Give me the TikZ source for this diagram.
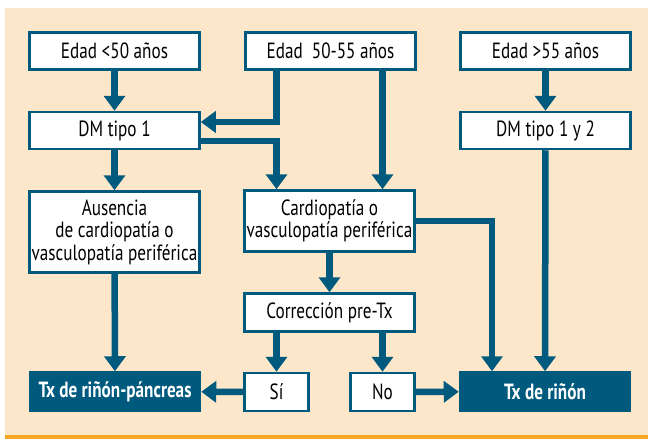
\documentclass[tikz,border=0pt]{standalone}
\usepackage{fontspec}
\setmainfont{PT Sans}[FakeStretch=0.78]
\usetikzlibrary{arrows.meta,positioning}
\definecolor{azul}{RGB}{0,90,126}
\definecolor{crema}{RGB}{253,231,202}
\definecolor{naranja}{RGB}{247,168,35}
\begin{document}
\begin{tikzpicture}[x=1pt,y=-1pt,
  caja/.style={draw=azul,line width=2.5pt,fill=white,minimum width=170pt,minimum height=37pt,
    align=center,inner sep=1pt,font=\fontsize{22}{22.5}\selectfont},
  final/.style={caja,fill=azul,text=white,font=\bfseries\fontsize{22}{22.5}\selectfont},
  flecha/.style={azul,line width=6.5pt,-{Triangle[width=21pt,length=15pt]}}]
\fill[white] (0,0) rectangle (648,439);
\fill[crema] (5,8) rectangle (648,435);
\fill[naranja] (5,435) rectangle (648,439);

\node[caja] (e50) at (114.5,51) {Edad <50 años};
\node[caja] (e5055) at (330.5,51) {Edad~~50-55 años};
\node[caja] (e55) at (545.5,51) {Edad >55 años};
\node[caja] (dm1) at (114.5,130.5) {DM tipo 1};
\node[caja] (dm12) at (545.5,130.5) {DM tipo 1 y 2};
\node[caja,minimum height=81pt] (aus) at (114.5,232) {Ausencia\\de cardiopatía o\\vasculopatía periférica};
\node[caja,minimum height=61pt] (card) at (329.5,221) {Cardiopatía o\\vasculopatía periférica};
\node[caja,minimum height=38pt] (corr) at (329.5,312.5) {Corrección pre-Tx};
\node[caja,minimum width=64pt,minimum height=38pt] (si) at (276.5,392) {Sí};
\node[caja,minimum width=64pt,minimum height=38pt] (no) at (382.5,392) {No};
\node[final,minimum height=38pt] (txrp) at (115,391.5) {Tx de riñón-páncreas};
\node[final,minimum height=38pt] (txr) at (545,391.5) {Tx de riñón};
\coordinate (bajada) at (492,221);

\draw[flecha] (e50) -- (dm1);
\draw[flecha] (e55) -- (dm12);
\draw[flecha] (e5055.south -| si) |- ([yshift=8.5pt]dm1.east);
\draw[flecha] ([yshift=-10.5pt]dm1.east) -| (card.north -| si);
\draw[flecha] (e5055.south -| no) -- (card.north -| no);
\draw[flecha] (dm1) -- (aus);
\draw[flecha] (aus) -- (txrp);
\draw[flecha] (card) -- (corr);
\draw[flecha] (corr.south -| si) -- (si);
\draw[flecha] (corr.south -| no) -- (no);
\draw[flecha] (si) -- (txrp);
\draw[flecha] (no) -- (txr);
\draw[flecha] (card.east) -- (bajada) -- (txr.north -| bajada);
\draw[flecha] (dm12) -- (txr);
\end{tikzpicture}
\end{document}
